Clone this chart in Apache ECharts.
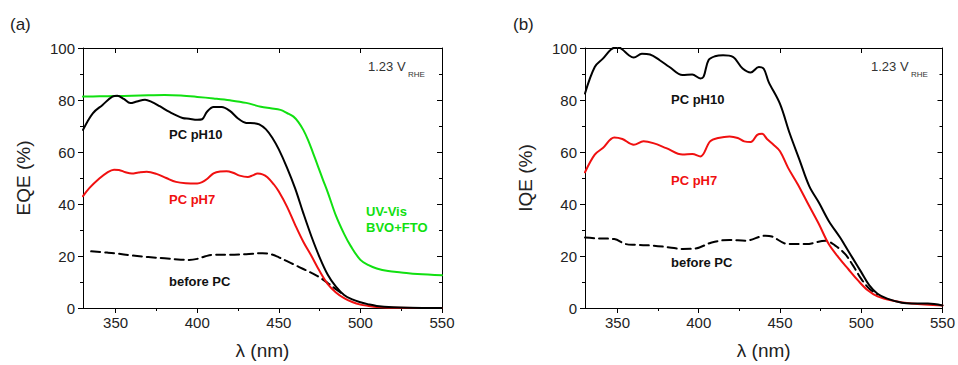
<!DOCTYPE html>
<html>
<head>
<meta charset="utf-8">
<script src="https://cdn.jsdelivr.net/npm/echarts@6/dist/echarts.min.js"></script>
<style>html,body{margin:0;padding:0;background:#fff}#c{width:958px;height:365px}</style>
</head>
<body>
<div id="c"></div>
<script>
// ---------- data ----------
const xTicksMajor = [350, 400, 450, 500, 550];
const xTicksMinor = [375, 425, 475, 525];

// (a) EQE
const eqeUvVisNm = [330,340,350,360,370,380,390,400,410,420,430,439,445,451,455,459,462,465,468,471,474,477,480,485,490,494,500,505,510,517,525,535,550];
const eqeUvVis   = [81.3,81.4,81.5,81.6,81.8,81.9,81.7,81.2,80.6,79.9,78.9,77.4,76.8,76.2,75.0,73.6,71.5,68.5,64.5,59.6,54.5,49.4,44.5,35.5,28.5,23.9,18.5,16.5,15.2,14.2,13.7,13.1,12.6];

const eqePH10Nm = [330,336,342,348,351,355,359,363,368,372,377,383,391,395,400,403,406,410,415,420,425,430,435,438,442,446,450,455,460,465,470,475,480,485,490,495,500,505,510,520,530,550];
const eqePH10   = [68.5,74.9,78.1,81.3,81.6,80.4,78.8,79.4,80.1,79.3,77.6,75.4,73.1,72.8,72.4,72.6,75.5,77.3,77.3,75.8,72.9,71.2,71.1,70.6,68.8,65.5,61.0,54.0,46.0,36.5,27.5,19.5,12.8,8.2,5.0,3.3,2.2,1.4,0.8,0.3,0.1,0.0];

const eqePH7Nm = [330,334,340,345,349,352,356,360,364,369,375,381,387,393,400,403,406,410,414,418,422,426,431,434,437,440,443,447,450,455,460,465,470,475,480,485,490,495,500,505,510,520,550];
const eqePH7   = [43.0,46.2,49.8,52.2,53.2,53.1,52.2,51.7,52.1,52.4,51.6,50.0,48.5,48.0,47.9,48.4,49.6,51.8,52.5,52.6,52.0,50.9,50.4,51.0,51.7,51.4,50.3,47.5,44.8,39.0,32.0,25.5,20.0,14.2,9.2,6.0,3.8,2.3,1.3,0.8,0.4,0.1,0.0];

const eqeBeforeNm = [335,345,350,360,370,380,390,395,400,405,410,420,430,440,445,450,455,460,465,470,475,480,485,490];
const eqeBefore   = [21.8,21.3,21.0,20.2,19.6,19.1,18.6,18.5,18.9,19.9,20.5,20.5,20.7,21.1,20.7,19.5,18.0,16.5,15.0,13.5,11.8,9.6,7.2,5.0];

// (b) IQE
const iqePH10Nm = [330,336,341,346,350,353,357,360,365,370,376,382,390,396,401,403,406,410,415,421,427,432,437,440,443,450,456,462,468,474,480,487,490,495,500,505,510,516,525,531,541,550];
const iqePH10   = [82.5,92.7,95.9,99.4,100.5,99.4,97.2,96.3,97.8,97.5,95.3,92.7,89.6,89.8,88.3,89.0,95.3,96.8,97.2,96.6,92.1,90.6,92.7,92.0,87.0,78.5,67.1,57.0,46.9,40.5,33.5,27.1,24.0,18.9,13.8,8.7,5.5,3.6,2.0,1.7,1.7,1.0];

const iqePH7Nm = [330,336,341,348,353,360,366,372,380,390,396,401,407,412,419,424,428,432,436,439,442,446,450,455,461,468,474,480,486,492,498,504,510,519,531,550];
const iqePH7   = [52.2,59.0,61.5,65.6,65.0,62.8,64.1,63.4,61.5,59.0,59.2,58.3,64.1,65.4,66.0,65.4,64.1,63.8,66.6,67.0,65.0,62.8,60.3,53.9,47.5,39.2,32.2,24.6,19.5,15.0,10.6,6.8,4.5,2.9,1.7,1.0];

const iqeBeforeNm = [330,337,348,355,361,372,382,390,398,408,419,429,441,445,455,466,478,484,490,495,500,505,510];
const iqeBefore   = [27.1,26.8,26.5,24.6,24.3,24.0,23.3,22.7,22.9,25.2,26.2,25.9,27.8,27.5,24.6,24.6,25.9,24.0,20.8,16.3,11.2,7.4,5.2];

// ---------- helpers ----------
const zip = (xs, ys) => xs.map((x, i) => [x, ys[i]]);
const FONT = 'Liberation Sans, Arial, sans-serif';
const BLACK = '#000';
const RED = '#f01010';
const GREEN = '#11e011';

function xAxes(gridIndex) {
  const base = {
    gridIndex, type: 'value', min: 330, max: 550,
    splitLine: { show: false },
    axisLine: { show: true, onZero: false, lineStyle: { color: '#000', width: 1 } }
  };
  return [
    Object.assign({}, base, {
      position: 'bottom',
      axisTick: { show: true, inside: false, length: 5, customValues: xTicksMajor, lineStyle: { color: '#000' } },
      axisLabel: { show: true, customValues: xTicksMajor, margin: 7, fontSize: 15, color: '#222', fontFamily: FONT },
      name: 'λ (nm)', nameLocation: 'middle', nameGap: 33,
      nameTextStyle: { fontSize: 19, color: '#222', fontFamily: FONT }
    }),
    Object.assign({}, base, {
      position: 'bottom', axisLine: { show: false },
      axisTick: { show: true, inside: false, length: 3, customValues: xTicksMinor, lineStyle: { color: '#000' } },
      axisLabel: { show: false }
    }),
    Object.assign({}, base, {
      position: 'top',
      axisTick: { show: true, inside: true, length: 5, customValues: xTicksMajor, lineStyle: { color: '#000' } },
      axisLabel: { show: false }
    }),
    Object.assign({}, base, {
      position: 'top', axisLine: { show: false },
      axisTick: { show: true, inside: true, length: 3, customValues: xTicksMinor, lineStyle: { color: '#000' } },
      axisLabel: { show: false }
    })
  ];
}

function yAxes(gridIndex, title) {
  const base = {
    gridIndex, type: 'value', min: 0, max: 100, interval: 20,
    splitLine: { show: false },
    axisLine: { show: true, onZero: false, lineStyle: { color: '#000', width: 1 } },
    minorTick: { show: true, splitNumber: 2, length: 3, lineStyle: { color: '#000' } }
  };
  return [
    Object.assign({}, base, {
      position: 'left',
      axisTick: { show: true, inside: false, length: 5, lineStyle: { color: '#000' } },
      axisLabel: { show: true, margin: 8, fontSize: 15, color: '#222', fontFamily: FONT },
      name: title, nameLocation: 'middle', nameGap: 50, nameRotate: 90,
      nameTextStyle: { fontSize: 19, color: '#222', fontFamily: FONT }
    }),
    Object.assign({}, base, {
      position: 'right',
      axisTick: { show: true, inside: true, length: 5, lineStyle: { color: '#000' } },
      axisLabel: { show: false }
    })
  ];
}

function line(name, data, xi, yi, color, dashed) {
  return {
    name, type: 'line', xAxisIndex: xi, yAxisIndex: yi, data,
    showSymbol: false, smooth: 0.35, clip: true,
    lineStyle: { color, width: 2, type: dashed ? [9, 5] : 'solid', cap: 'round', join: 'round' },
    itemStyle: { color }, z: 3
  };
}

const chart = echarts.init(document.getElementById('c'), null, { renderer: 'svg', width: 958, height: 365 });

const option = {
  animation: false,
  backgroundColor: '#fff',
  grid: [
    { left: 83, right: 516, top: 48, bottom: 56, containLabel: false },
    { left: 585, right: 14, top: 48, bottom: 56, containLabel: false }
  ],
  xAxis: [...xAxes(0), ...xAxes(1)],
  yAxis: [...yAxes(0, 'EQE (%)'), ...yAxes(1, 'IQE (%)')],
  series: [
    line('UV-Vis BVO+FTO', zip(eqeUvVisNm, eqeUvVis), 0, 0, GREEN, false),
    line('before PC (a)', zip(eqeBeforeNm, eqeBefore), 0, 0, BLACK, true),
    line('PC pH7 (a)', zip(eqePH7Nm, eqePH7), 0, 0, RED, false),
    line('PC pH10 (a)', zip(eqePH10Nm, eqePH10), 0, 0, BLACK, false),
    line('before PC (b)', zip(iqeBeforeNm, iqeBefore), 4, 2, BLACK, true),
    line('PC pH7 (b)', zip(iqePH7Nm, iqePH7), 4, 2, RED, false),
    line('PC pH10 (b)', zip(iqePH10Nm, iqePH10), 4, 2, BLACK, false)
  ],
  graphic: [
    { type: 'text', left: 10, top: 16, style: { text: '(a)', fontFamily: FONT, fontSize: 17, fill: '#222' } },
    { type: 'text', left: 513, top: 16, style: { text: '(b)', fontFamily: FONT, fontSize: 17, fill: '#222' } },
    { type: 'text', left: 368, top: 60, style: { text: '1.23 V', fontFamily: FONT, fontSize: 13, fill: '#333' } },
    { type: 'text', left: 408, top: 70, style: { text: 'RHE', fontFamily: FONT, fontSize: 8, fill: '#333' } },
    { type: 'text', left: 871, top: 60, style: { text: '1.23 V', fontFamily: FONT, fontSize: 13, fill: '#333' } },
    { type: 'text', left: 911, top: 70, style: { text: 'RHE', fontFamily: FONT, fontSize: 8, fill: '#333' } },
    { type: 'text', left: 169, top: 128, style: { text: 'PC pH10', fontFamily: FONT, fontSize: 13, fontWeight: 'bold', fill: '#111' } },
    { type: 'text', left: 169, top: 193, style: { text: 'PC pH7', fontFamily: FONT, fontSize: 13, fontWeight: 'bold', fill: RED } },
    { type: 'text', left: 366, top: 205, style: { text: 'UV-Vis', fontFamily: FONT, fontSize: 13, fontWeight: 'bold', fill: GREEN } },
    { type: 'text', left: 366, top: 221, style: { text: 'BVO+FTO', fontFamily: FONT, fontSize: 13, fontWeight: 'bold', fill: GREEN } },
    { type: 'text', left: 169, top: 275, style: { text: 'before PC', fontFamily: FONT, fontSize: 13, fontWeight: 'bold', fill: '#111' } },
    { type: 'text', left: 671, top: 93, style: { text: 'PC pH10', fontFamily: FONT, fontSize: 13, fontWeight: 'bold', fill: '#111' } },
    { type: 'text', left: 671, top: 174, style: { text: 'PC pH7', fontFamily: FONT, fontSize: 13, fontWeight: 'bold', fill: RED } },
    { type: 'text', left: 671, top: 256, style: { text: 'before PC', fontFamily: FONT, fontSize: 13, fontWeight: 'bold', fill: '#111' } }
  ]
};
chart.setOption(option);
</script>
</body>
</html>
